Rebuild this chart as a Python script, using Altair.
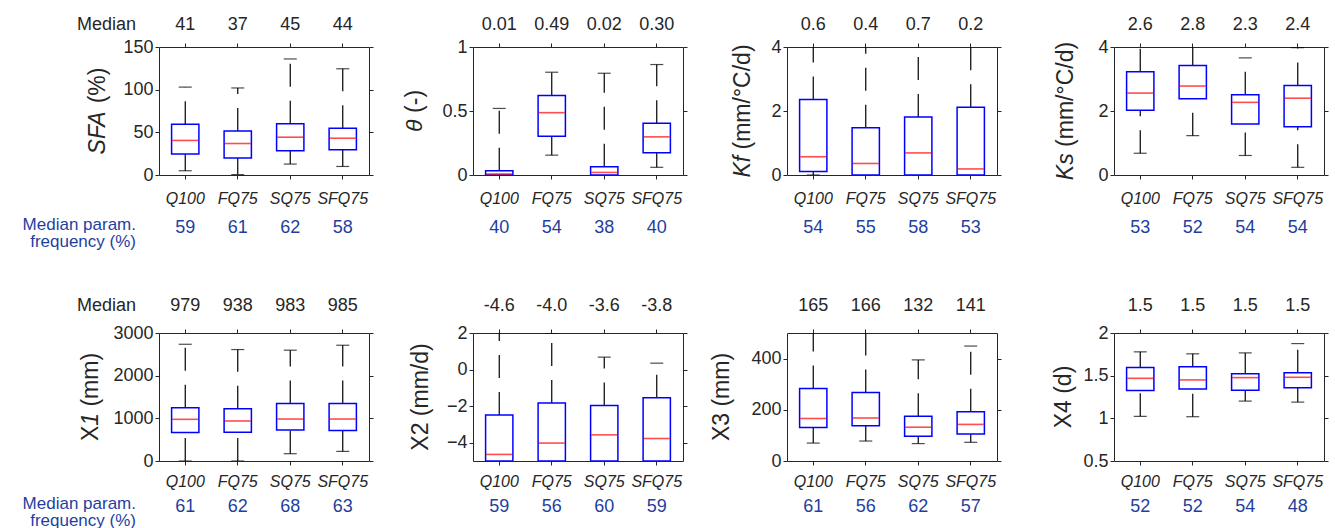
import altair as alt
import pandas as pd

categories = ["Q100", "FQ75", "SQ75", "SFQ75"]

# per category: [lower whisker, q1, median, q3, upper whisker]
sfa_box = [[5, 24.5, 40.5, 59.5, 103], [0.5, 19.8, 36.9, 51.7, 102], [12.8, 28.4, 44.3, 60.2, 136], [10, 29.5, 43.1, 54.8, 124.5]]
theta_box = [[0, 0, 0.008, 0.034, 0.52], [0.155, 0.303, 0.487, 0.622, 0.803], [0, 0, 0.02, 0.065, 0.795], [0.06, 0.174, 0.298, 0.404, 0.863]]
kf_box = [[0, 0.11, 0.57, 2.36, 5.0], [0, 0, 0.36, 1.48, 4.6], [0, 0, 0.69, 1.81, 4.8], [0, 0, 0.19, 2.12, 4.7]]
ks_box = [[0.68, 2.02, 2.56, 3.23, 4.3], [1.23, 2.38, 2.78, 3.42, 4.4], [0.61, 1.59, 2.27, 2.51, 3.66], [0.24, 1.51, 2.40, 2.80, 3.98]]
x1_box = [[0, 667, 977, 1248, 2736], [0, 674, 938, 1225, 2612], [171, 729, 984, 1349, 2597], [225, 713, 984, 1349, 2713]]
x2_box = [[-5, -5, -4.64, -2.48, 2.6], [-5, -5, -4.02, -1.83, 2.0], [-5, -5, -3.57, -1.96, 0.68], [-5, -5, -3.77, -1.54, 0.35]]
x3_box = [[70, 131, 166, 283, 560], [78, 138, 168, 268, 540], [68, 97, 132, 175, 395], [73, 105, 143, 192, 449]]
x4_box = [[1.023, 1.326, 1.469, 1.597, 1.779], [1.019, 1.345, 1.450, 1.605, 1.756], [1.202, 1.329, 1.477, 1.523, 1.767], [1.190, 1.357, 1.481, 1.535, 1.876]]

sfa_median = ["41", "37", "45", "44"]
theta_median = ["0.01", "0.49", "0.02", "0.30"]
kf_median = ["0.6", "0.4", "0.7", "0.2"]
ks_median = ["2.6", "2.8", "2.3", "2.4"]
x1_median = ["979", "938", "983", "985"]
x2_median = ["-4.6", "-4.0", "-3.6", "-3.8"]
x3_median = ["165", "166", "132", "141"]
x4_median = ["1.5", "1.5", "1.5", "1.5"]

sfa_freq = [59, 61, 62, 58]
theta_freq = [40, 54, 38, 40]
kf_freq = [54, 55, 58, 53]
ks_freq = [53, 52, 54, 54]
x1_freq = [61, 62, 68, 63]
x2_freq = [59, 56, 60, 59]
x3_freq = [61, 56, 62, 57]
x4_freq = [52, 52, 54, 48]

FONT = "Liberation Sans"
DARK = "#262626"
BLUE_TXT = "#1f3f9f"
W, H = 210, 128

CHW = {"S": 667, "F": 611, "A": 667, " ": 278, "(": 333, "%": 889, ")": 333, "θ": 556,
       "-": 333, "K": 667, "f": 278, "m": 833, "/": 278, "°": 400, "C": 722, "d": 556,
       "s": 500, "X": 667}


def tw(s, size):
    return sum(CHW.get(c, 556) for c in s) / 1000 * size


ROWP = {
    1: dict(med_dy=-22, freq_dy=53, cat_pad=11, block_dy=49.5),
    2: dict(med_dy=-27, freq_dy=46, cat_pad=8, block_dy=43),
}


def panel(box, med_labels, freqs, domain, ticks, title_parts, title_dx, row, first, extra=0):
    rp = ROWP[row]
    df = pd.DataFrame({
        "cat": categories,
        "lo": [b[0] for b in box],
        "q1": [b[1] for b in box],
        "med": [b[2] for b in box],
        "q3": [b[3] for b in box],
        "hi": [b[4] for b in box],
        "medlab": med_labels,
        "freq": [str(v) for v in freqs],
    })
    base = alt.Chart(df)
    if extra:
        xs = alt.Scale(paddingInner=0, paddingOuter=0, range=[0, W])
    else:
        xs = alt.Scale(paddingInner=0, paddingOuter=0)
    x = alt.X("cat:N", sort=categories, scale=xs, title=None,
              axis=alt.Axis(labelAngle=0, labelFontStyle="italic", labelFontSize=16, labelFont=FONT,
                            labelColor=DARK, labelPadding=rp["cat_pad"], tickSize=4, tickColor=DARK,
                            domainColor=DARK, grid=False, zindex=1))
    ys = alt.Scale(domain=domain, nice=False, zero=False)
    yax = alt.Axis(values=ticks, format=".12~g", labelFontSize=18, labelFont=FONT, labelColor=DARK,
                   labelPadding=2, tickSize=4, tickColor=DARK, domainColor=DARK, grid=False, zindex=1)

    def Y(f):
        return alt.Y(f, scale=ys, axis=yax, title=None)

    up = base.mark_rule(color="black", strokeWidth=1.2, strokeDash=[23, 14], clip=True).encode(
        x=x, y=Y("q3:Q"), y2="hi:Q")
    low = base.mark_rule(color="black", strokeWidth=1.2, strokeDash=[23, 14], clip=True).encode(
        x=x, y=Y("lo:Q"), y2="q1:Q")
    cap_hi = base.mark_tick(color="black", size=13, thickness=1.2, clip=True).encode(x=x, y=Y("hi:Q"))
    cap_lo = base.mark_tick(color="black", size=13, thickness=1.2, clip=True).encode(x=x, y=Y("lo:Q"))
    bx = base.mark_bar(width=alt.RelativeBandSize(0.52), fill="white", stroke="#0000ff",
                       strokeWidth=1.5, clip=True).encode(x=x, y=Y("q1:Q"), y2="q3:Q")
    md = base.mark_tick(color="#ff0000", size=26, thickness=1.6, clip=True).encode(x=x, y=Y("med:Q"))
    medtxt = base.mark_text(font=FONT, fontSize=18, color=DARK, baseline="middle").encode(
        x=x, y=alt.value(rp["med_dy"]), text="medlab:N")
    freqtxt = base.mark_text(font=FONT, fontSize=18, color=BLUE_TXT, baseline="middle").encode(
        x=x, y=alt.value(H + rp["freq_dy"]), text="freq:N")

    layers = [up, low, cap_hi, cap_lo, bx, md, medtxt, freqtxt]

    # y-axis title made of italic / upright pieces (gap = width of a space before a piece)
    tsize = 23
    gap = tw(" ", tsize)
    total = sum(tw(t, tsize) + (gap if sp else 0) for t, _, sp in title_parts)
    ypos = H / 2 + total / 2
    one = pd.DataFrame({"k": [0]})
    for t, it, sp in title_parts:
        if sp:
            ypos -= gap
        layers.append(alt.Chart(one).mark_text(
            font=FONT, fontSize=tsize, color=DARK, angle=270, align="left", baseline="middle",
            fontStyle="italic" if it else "normal").encode(
            x=alt.value(title_dx), y=alt.value(ypos), text=alt.value(t)))
        ypos -= tw(t, tsize)

    if first:
        layers.append(alt.Chart(one).mark_text(font=FONT, fontSize=18, color=DARK, align="right",
                                               baseline="middle").encode(
            x=alt.value(-23), y=alt.value(rp["med_dy"]), text=alt.value("Median")))
        layers.append(alt.Chart(one).mark_text(font=FONT, fontSize=17, color=BLUE_TXT, align="right",
                                               baseline="middle", lineHeight=17).encode(
            x=alt.value(-23), y=alt.value(H + rp["block_dy"]),
            text=alt.value(["Median param.", "frequency (%)"])))

    main = alt.layer(*layers)
    raxis = dict(orient="right", values=ticks, labels=False, tickSize=4, tickColor=DARK,
                 domainColor=DARK, grid=False)
    if extra:
        raxis["offset"] = -extra
    mirror = base.mark_point(opacity=0).encode(
        x=alt.X("cat:N", sort=categories, scale=xs, title=None,
                axis=alt.Axis(orient="top", labels=False, tickSize=4, tickColor=DARK,
                              domainColor=DARK, grid=False)),
        y=alt.Y("med:Q", scale=ys, title=None, axis=alt.Axis(**raxis)))
    return alt.layer(main, mirror).resolve_axis(x="independent", y="independent").properties(
        width=W + extra, height=H)


p1 = panel(sfa_box, sfa_median, sfa_freq, [0, 150], [0, 50, 100, 150],
           [("SFA", True, False), ("(%)", False, True)], -61, 1, True)
p2 = panel(theta_box, theta_median, theta_freq, [0, 1], [0, 0.5, 1],
           [("θ", True, False), ("(-)", False, True)], -58, 1, False)
p3 = panel(kf_box, kf_median, kf_freq, [0, 4], [0, 2, 4],
           [("Kf", True, False), ("(mm/°C/d)", False, True)], -44, 1, False, extra=13)
p4 = panel(ks_box, ks_median, ks_freq, [0, 4], [0, 2, 4],
           [("Ks", True, False), ("(mm/°C/d)", False, True)], -48, 1, False)
p5 = panel(x1_box, x1_median, x1_freq, [0, 3000], [0, 1000, 2000, 3000],
           [("X", False, False), ("1", True, False), ("(mm)", False, True)], -68, 2, True)
p6 = panel(x2_box, x2_median, x2_freq, [-5, 2], [-4, -2, 0, 2],
           [("X2", False, False), ("(mm/d)", False, True)], -52, 2, False)
p7 = panel(x3_box, x3_median, x3_freq, [0, 500], [0, 200, 400],
           [("X3", False, False), ("(mm)", False, True)], -65, 2, False, extra=13)
p8 = panel(x4_box, x4_median, x4_freq, [0.5, 2], [0.5, 1, 1.5, 2],
           [("X4", False, False), ("(d)", False, True)], -50, 2, False)

chart = alt.concat(p1, p2, p3, p4, p5, p6, p7, p8, columns=4,
                   spacing={"row": 158, "column": 104}, bounds="flush").properties(
    padding={"left": 22, "top": 16, "right": 5, "bottom": 3},
    background="white",
).configure_view(strokeWidth=0)

chart.save("out.html", embed_options={"renderer": "svg", "actions": False})
